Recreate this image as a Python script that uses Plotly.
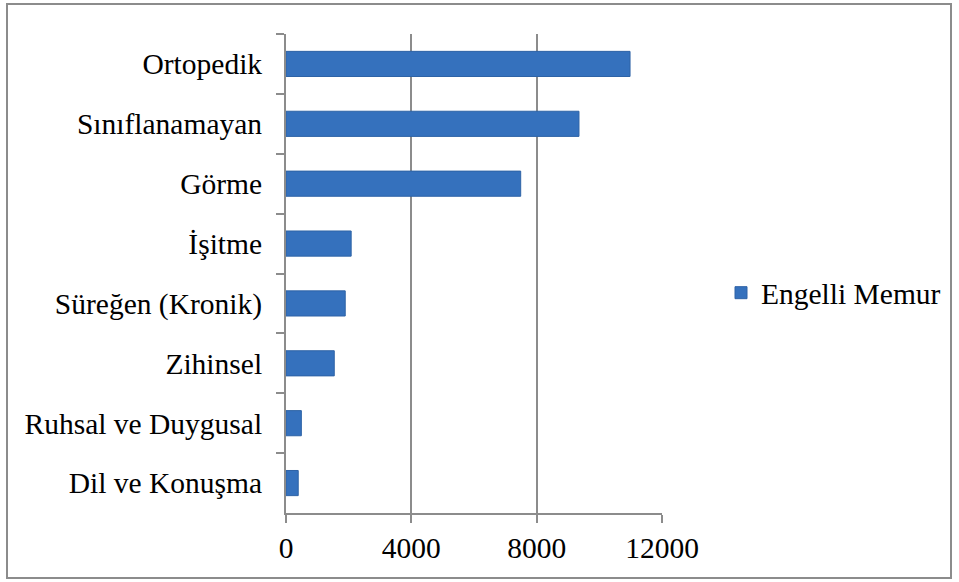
import plotly.graph_objects as go

categories = ["Ortopedik", "Sınıflanamayan", "Görme", "İşitme", "Süreğen (Kronik)",
              "Zihinsel", "Ruhsal ve Duygusal", "Dil ve Konuşma"]
values = [10980, 9350, 7490, 2080, 1890, 1540, 490, 390]
series_name = "Engelli Memur"
x_ticks = [0, 4000, 8000, 12000]

W, H = 959, 582
L, R, T, B = 286, 297, 34, 69
pw, ph = W - L - R, H - T - B

def px_x(px):
    return (px - L) / pw

def px_y(py):
    return (H - B - py) / ph

font = dict(family="Liberation Serif", size=29.5, color="#000000")

fig = go.Figure()
fig.add_trace(go.Bar(
    y=categories, x=values, orientation="h", name=series_name,
    marker=dict(color="#3571BD", line=dict(color="#2E63A6", width=1)),
    showlegend=True,
))

fig.update_layout(
    width=W, height=H,
    margin=dict(l=L, r=R, t=T, b=B, autoexpand=False),
    paper_bgcolor="white", plot_bgcolor="white",
    font=font,
    bargap=0.58,
    showlegend=True,
    legend=dict(x=px_x(721), y=px_y(293), xanchor="left", yanchor="middle",
                font=font, bgcolor="rgba(0,0,0,0)", itemwidth=30,
                tracegroupgap=0),
    xaxis=dict(range=[0, 12000], tickvals=x_ticks, ticktext=[str(v) for v in x_ticks],
               showgrid=True, gridcolor="#8C8C8C", gridwidth=2,
               showline=True, linecolor="#8C8C8C", linewidth=2,
               ticks="outside", ticklen=8, tickwidth=2, tickcolor="#8C8C8C",
               zeroline=False, tickfont=font, fixedrange=True, automargin=False),
    yaxis=dict(autorange="reversed", type="category",
               showgrid=False, showline=True, linecolor="#8C8C8C", linewidth=2,
               ticks="outside", ticklen=8, tickwidth=2, tickcolor="#8C8C8C",
               tickson="boundaries", tickfont=font, ticklabelstandoff=16,
               fixedrange=True, automargin=False),
    shapes=[dict(type="rect", xref="paper", yref="paper",
                 x0=px_x(7), x1=px_x(951), y0=px_y(578), y1=px_y(4),
                 line=dict(color="#8C8C8C", width=2), fillcolor="rgba(0,0,0,0)",
                 layer="below")],
)

fig.write_html("out.html", config={"displayModeBar": False},
               post_script="document.body.style.margin='0px';document.body.style.overflow='hidden';")
